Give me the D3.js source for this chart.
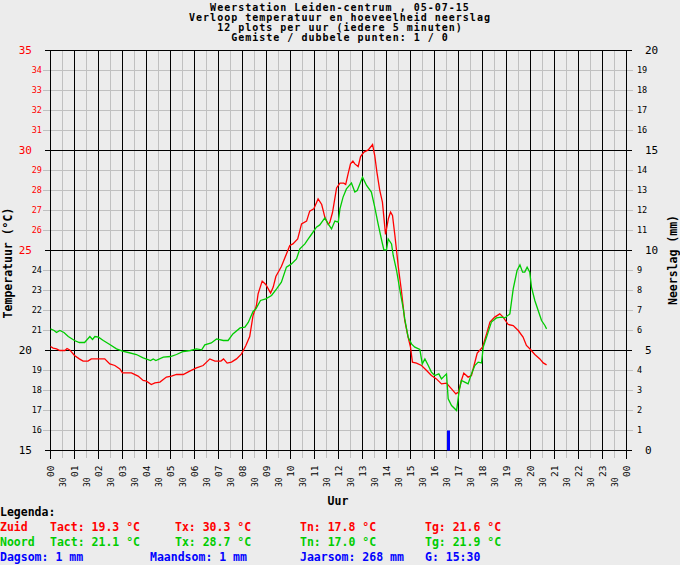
<!DOCTYPE html>
<html>
  <head>
    <meta charset="utf-8">
    <title>Weerstation Leiden-centrum</title>
    <script src="https://d3js.org/d3.v7.min.js"></script>
    <style>
      body { margin: 0; background: #ececec; }
      text { font-family: 'DejaVu Sans Mono', monospace; }
      .t { font-size: 11.5px; font-weight: bold; }
      .kop { font-size: 10px; font-weight: bold; letter-spacing: 1px; }
      .zuid { fill: none; stroke: #ff0000; stroke-width: 1.3; }
      .noord { fill: none; stroke: #00cc00; stroke-width: 1.3; }
    </style>
  </head>
  <body>
    <script>
      // tijd in uren, temperatuur in graden
      var zuidTijd = [0,0.11,0.25,0.39,0.6,0.69,0.8,1,1.2,1.36,1.56,1.7,2,2.26,2.47,2.68,2.89,3,3.37,3.65,3.86,4,4.2,4.35,4.56,4.83,5.04,5.25,5.53,5.8,6.08,6.36,6.64,6.85,7.1,7.21,7.36,7.54,7.75,7.96,8.14,8.3,8.44,8.58,8.65,8.82,8.97,9.17,9.28,9.39,9.62,9.83,9.97,10.1,10.3,10.46,10.67,10.8,10.97,11.15,11.3,11.43,11.57,11.64,11.75,11.92,12.06,12.22,12.3,12.4,12.5,12.6,12.68,12.82,12.92,13.06,13.24,13.42,13.51,13.6,13.72,13.83,13.96,14.08,14.17,14.25,14.35,14.49,14.63,14.76,14.9,15,15.08,15.25,15.46,15.67,15.87,16.08,16.29,16.5,16.71,16.89,17,17.12,17.22,17.4,17.54,17.78,18,18.17,18.31,18.51,18.72,18.86,19.07,19.28,19.49,19.69,19.83,20,20.18,20.39,20.53,20.67];
      var zuidTemp = [20.2,20.12,20.08,20,20,20.1,20.03,19.75,19.58,19.47,19.47,19.58,19.58,19.58,19.33,19.25,19.08,18.88,18.88,18.72,18.5,18.47,18.3,18.38,18.42,18.67,18.72,18.8,18.8,18.97,19.13,19.25,19.58,19.47,19.47,19.58,19.37,19.42,19.58,19.83,20.25,20.7,21.75,22.25,22.83,23.47,23.3,22.87,23.17,23.7,24.2,24.83,25.25,25.33,25.58,26.33,26.47,26.97,27.08,27.58,27.3,26.67,26.3,26.42,26.9,28.13,28.37,28.37,28.3,28.83,29.33,29.47,29.33,29.2,29.7,29.92,30.03,30.3,29.75,28.92,28,27.42,25.8,26.6,26.92,26.75,25.75,24.2,22.9,21.5,20.67,20.17,19.42,19.37,19.25,19,18.75,18.58,18.33,18.37,18.08,17.83,17.92,18.5,18.87,18.67,18.75,19.87,20.17,20.83,21.42,21.67,21.83,21.67,21.3,21.25,21,20.67,20.25,20.05,19.8,19.58,19.38,19.28];

      var noordTijd = [0,0.15,0.25,0.39,0.56,0.74,1,1.2,1.42,1.64,1.75,1.85,2,2.2,2.47,2.75,3,3.24,3.58,3.86,4.17,4.28,4.39,4.7,5,5.25,5.53,5.83,6.08,6.3,6.43,6.7,6.92,7.2,7.4,7.6,7.9,8.1,8.24,8.44,8.56,8.75,8.97,9.21,9.42,9.62,9.83,10.04,10.25,10.39,10.6,10.74,10.87,11.08,11.22,11.43,11.57,11.71,11.85,11.99,12.06,12.19,12.33,12.54,12.68,12.78,12.89,13,13.17,13.37,13.51,13.65,13.8,13.89,14,14.07,14.21,14.28,14.42,14.56,14.7,14.76,14.9,15.04,15.18,15.39,15.49,15.6,15.74,15.87,16.01,16.18,16.29,16.5,16.57,16.71,16.92,17.03,17.12,17.26,17.4,17.54,17.68,17.82,17.96,18.03,18.17,18.37,18.58,18.79,18.93,19.14,19.28,19.44,19.56,19.67,19.76,19.86,19.97,20.04,20.18,20.32,20.46,20.6,20.67];
      var noordTemp = [21.08,21,20.9,21,20.9,20.7,20.5,20.4,20.4,20.7,20.55,20.7,20.67,20.5,20.3,20.08,19.97,19.9,19.8,19.63,19.5,19.58,19.5,19.67,19.7,19.8,19.95,20,20.08,20.03,20.28,20.38,20.58,20.5,20.5,20.83,21.13,21.17,21.4,21.95,22.08,22.5,22.58,22.75,23.08,23.42,24.17,24.33,24.58,25.08,25.33,25.58,25.8,26.17,26.28,26.63,26.33,26.08,26.47,26.42,27.08,27.67,28.08,28.37,27.92,28,28.33,28.67,28.25,27.92,27.17,26.33,25.5,25.03,25.03,25.58,25.33,24.75,24,23,22.08,21.58,20.67,20.33,20.17,20.05,19.33,19.58,19.25,18.92,18.75,18.83,18.58,18.83,17.58,17.25,17,18,18.5,18.42,18.33,18.83,19.25,19.42,19.38,20.17,20.67,21.42,21.63,21.67,21.63,21.83,23.08,24,24.28,23.92,23.92,24.17,23.92,23.17,22.5,22,21.5,21.25,21.08];

      // neerslag in mm per 5 minuten
      var regenTijd = [16.5];
      var regenMm = [1];

      var uurLabels = ['00','01','02','03','04','05','06','07','08','09','10','11','12','13','14','15','16','17','18','19','20','21','22','23','00'];
      var tempTicks = d3.range(15, 36);
      var regenTicks = d3.range(0, 21);

      var titel = ['Weerstation Leiden-centrum , 05-07-15',
                   'Verloop temperatuur en hoeveelheid neerslag',
                   '12 plots per uur (iedere 5 minuten)',
                   'Gemiste / dubbele punten: 1 / 0'];

      var legenda = [
        { kleur: '#ff0000', cellen: ['Zuid', 'Tact: 19.3 °C', 'Tx: 30.3 °C', 'Tn: 17.8 °C', 'Tg: 21.6 °C'] },
        { kleur: '#00cc00', cellen: ['Noord', 'Tact: 21.1 °C', 'Tx: 28.7 °C', 'Tn: 17.0 °C', 'Tg: 21.9 °C'] }
      ];
      var sommen = ['Dagsom: 1 mm', 'Maandsom: 1 mm', 'Jaarsom: 268 mm', 'G: 15:30'];

      var svg = d3.select('body').append('svg').attr('width', 680).attr('height', 565);
      svg.append('rect').attr('width', 680).attr('height', 565).attr('fill', '#ececec');

      var x = d3.scaleLinear().domain([0, 24]).range([50.5, 626.5]);
      var yT = d3.scaleLinear().domain([15, 35]).range([450.5, 50.5]);
      var yR = d3.scaleLinear().domain([0, 20]).range([450.5, 50.5]);

      // titel
      svg.selectAll('.titel').data(titel).enter().append('text')
        .attr('class', 'kop').attr('x', 340).attr('y', function(d, i){ return 10.5 + i * 10 })
        .attr('text-anchor', 'middle').text(function(d){ return d });

      // raster
      var halfUur = d3.range(0.5, 24, 1);
      var heleUur = d3.range(0, 25);
      svg.selectAll('.vgrijs').data(halfUur).enter().append('line')
        .attr('x1', x).attr('x2', x).attr('y1', 50.5).attr('y2', 458)
        .attr('stroke', '#c0c0c0');
      svg.selectAll('.hgrijs').data(tempTicks.filter(function(d){ return d % 5 })).enter().append('line')
        .attr('x1', 43).attr('x2', 633).attr('y1', yT).attr('y2', yT)
        .attr('stroke', '#c0c0c0');
      svg.selectAll('.vzwart').data(heleUur).enter().append('line')
        .attr('x1', x).attr('x2', x).attr('y1', 50.5).attr('y2', 459)
        .attr('stroke', '#000');
      svg.selectAll('.hzwart').data(tempTicks.filter(function(d){ return d % 5 == 0 })).enter().append('line')
        .attr('x1', 45).attr('x2', 632).attr('y1', yT).attr('y2', yT)
        .attr('stroke', '#000');

      // linker as
      svg.selectAll('.tl').data(tempTicks).enter().append('text')
        .attr('x', function(d){ return d % 5 ? 42 : 32 })
        .attr('y', yT).attr('dy', '0.35em')
        .attr('text-anchor', 'end')
        .attr('font-size', function(d){ return d % 5 ? '8.5px' : '11px' })
        .attr('fill', function(d){ return d >= 25 ? '#ff0000' : '#000' })
        .text(function(d){ return d });

      // rechter as
      svg.selectAll('.rl').data(regenTicks).enter().append('text')
        .attr('x', function(d){ return d % 5 ? 637 : 645 })
        .attr('y', yR).attr('dy', '0.35em')
        .attr('font-size', function(d){ return d % 5 ? '8.5px' : '11px' })
        .text(function(d){ return d });

      // uur labels
      svg.selectAll('.ul').data(uurLabels).enter().append('text')
        .attr('transform', function(d, i){ return 'translate(' + (x(i) + 0.5) + ',477) rotate(-90)' })
        .attr('dy', '0.35em').attr('font-size', '9.5px').text(function(d){ return d });
      svg.selectAll('.hl').data(halfUur).enter().append('text')
        .attr('transform', function(d){ return 'translate(' + (x(d) + 0.5) + ',487) rotate(-90)' })
        .attr('dy', '0.35em').attr('font-size', '8px').text('30');

      // as titels
      svg.append('text').attr('class', 't').attr('x', 338).attr('y', 505)
        .attr('text-anchor', 'middle').text('Uur');
      svg.append('text').attr('class', 't').attr('text-anchor', 'middle')
        .attr('transform', 'translate(12,263) rotate(-90)').text('Temperatuur (°C)');
      svg.append('text').attr('class', 't').attr('text-anchor', 'middle')
        .attr('transform', 'translate(677,260) rotate(-90)').text('Neerslag (mm)');

      // neerslag
      svg.selectAll('.regen').data(d3.zip(regenTijd, regenMm)).enter().append('rect')
        .attr('x', function(d){ return x(d[0]) + 0.5 })
        .attr('width', 3)
        .attr('y', function(d){ return yR(d[1]) })
        .attr('height', function(d){ return yR(0) - yR(d[1]) })
        .attr('fill', '#0000ff');

      // temperatuur lijnen
      var lijn = d3.line()
        .x(function(d){ return x(d[0]) })
        .y(function(d){ return yT(d[1]) });
      svg.append('path').datum(d3.zip(zuidTijd, zuidTemp)).attr('class', 'zuid').attr('d', lijn);
      svg.append('path').datum(d3.zip(noordTijd, noordTemp)).attr('class', 'noord').attr('d', lijn);

      // legenda
      svg.append('text').attr('class', 't').attr('x', 0).attr('y', 516).text('Legenda:');
      var kolX = [0, 50, 175, 300, 425];
      legenda.forEach(function(r, i){
        svg.selectAll('.leg' + i).data(r.cellen).enter().append('text')
          .attr('class', 't').attr('fill', r.kleur)
          .attr('x', function(d, j){ return kolX[j] }).attr('y', 531 + i * 15)
          .text(function(d){ return d });
      });
      var somX = [0, 150, 300, 425];
      svg.selectAll('.som').data(sommen).enter().append('text')
        .attr('class', 't').attr('fill', '#0000ff')
        .attr('x', function(d, j){ return somX[j] }).attr('y', 561)
        .text(function(d){ return d });
    </script>
  </body>
</html>
